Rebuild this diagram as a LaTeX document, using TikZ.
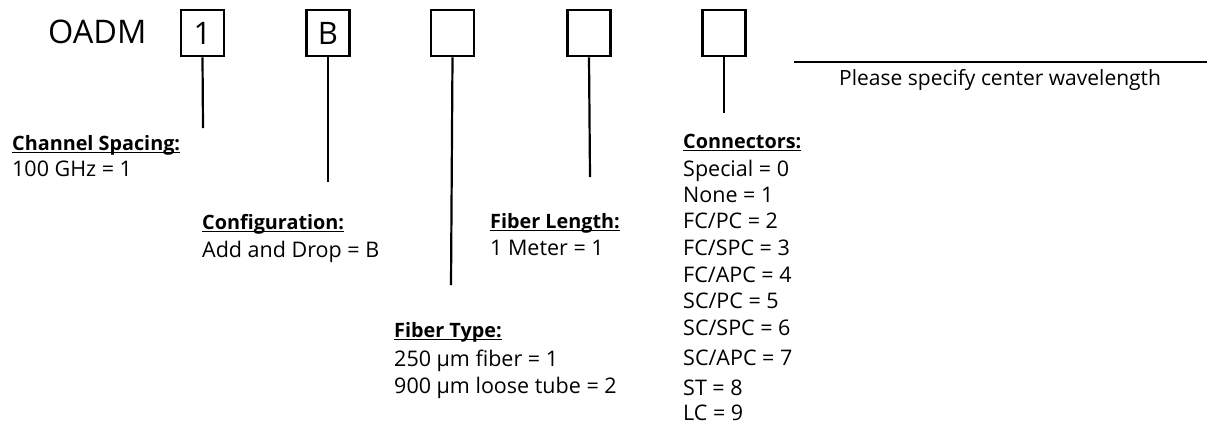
\documentclass[tikz,border=0pt]{standalone}
\usepackage{fontspec}
\setmainfont{Open Sans}
\newsavebox\ulbox
\newcommand\myul[1]{\sbox\ulbox{#1}\rlap{\rule[-3.2pt]{\wd\ulbox}{1.6pt}}\usebox\ulbox}
\begin{document}
\begin{tikzpicture}[x=1pt,y=-1pt,
  codebox/.style={draw,line width=2.6pt,minimum width=43pt,minimum height=46pt,inner sep=0pt,font=\fontsize{31}{35}\selectfont},
  lead/.style={line width=2.2pt},
  txt/.style={anchor=base west,inner sep=0pt,font=\fontsize{21.5}{25}\selectfont},
  head/.style={txt,font=\fontsize{19.8}{24}\selectfont\bfseries}]
\useasboundingbox (0,0) rectangle (1207,424);
\node[anchor=base west,inner sep=0pt,font=\fontsize{32.5}{36}\selectfont] (oadm) at (48,43) {OADM};
\node[codebox] (b1) at (202.5,33) {1};
\node[codebox] (b2) at (328,33) {B};
\node[codebox] (b3) at (452.5,33) {};
\node[codebox] (b4) at (589,33) {};
\node[codebox] (b5) at (724,33) {};
\coordinate (e1) at (203,128);
\coordinate (e2) at (328,182);
\coordinate (e3) at (451,285);
\coordinate (e4) at (590,177);
\coordinate (e5) at (724,113);
\draw[lead] (b1.south) -- (e1);
\draw[lead] (b2.south) -- (e2);
\draw[lead] (b3.south) -- (e3);
\draw[lead] (b4.south) -- (e4);
\draw[lead] (b5.south) -- (e5);
\coordinate (wl) at (794,62);
\coordinate (wr) at (1207,62);
\draw[line width=2.6pt] (wl) -- (wr);
\node[txt,font=\fontsize{21}{25}\selectfont] (wlt) at (839,85) {Please specify center wavelength};
% Channel spacing
\node[head] (h1) at (12,150) {\myul{Channel Spacing:}};
\node[txt] (t1) at (12,176) {100 GHz = 1};
% Configuration
\node[head] (h2) at (202,229) {\myul{Configuration:}};
\node[txt] (t2) at (202,257) {Add and Drop = B};
% Fiber type
\node[head] (h3) at (394,337) {\myul{Fiber Type:}};
\node[txt] (t3a) at (394,366) {250 µm fiber = 1};
\node[txt] (t3b) at (394,393) {900 µm loose tube = 2};
% Fiber length
\node[head] (h4) at (490,228) {\myul{Fiber Length:}};
\node[txt] (t4) at (490,255) {1 Meter = 1};
% Connectors
\node[head] (h5) at (683,148) {\myul{Connectors:}};
\node[txt] (c0) at (683,176) {Special = 0};
\node[txt] (c1) at (683,202) {None = 1};
\node[txt] (c2) at (683,228) {FC/PC = 2};
\node[txt] (c3) at (683,255) {FC/SPC = 3};
\node[txt] (c4) at (683,282) {FC/APC = 4};
\node[txt] (c5) at (683,308) {SC/PC = 5};
\node[txt] (c6) at (683,335) {SC/SPC = 6};
\node[txt] (c7) at (683,365) {SC/APC = 7};
\node[txt] (c8) at (683,395) {ST = 8};
\node[txt] (c9) at (683,420) {LC = 9};
\end{tikzpicture}
\end{document}
